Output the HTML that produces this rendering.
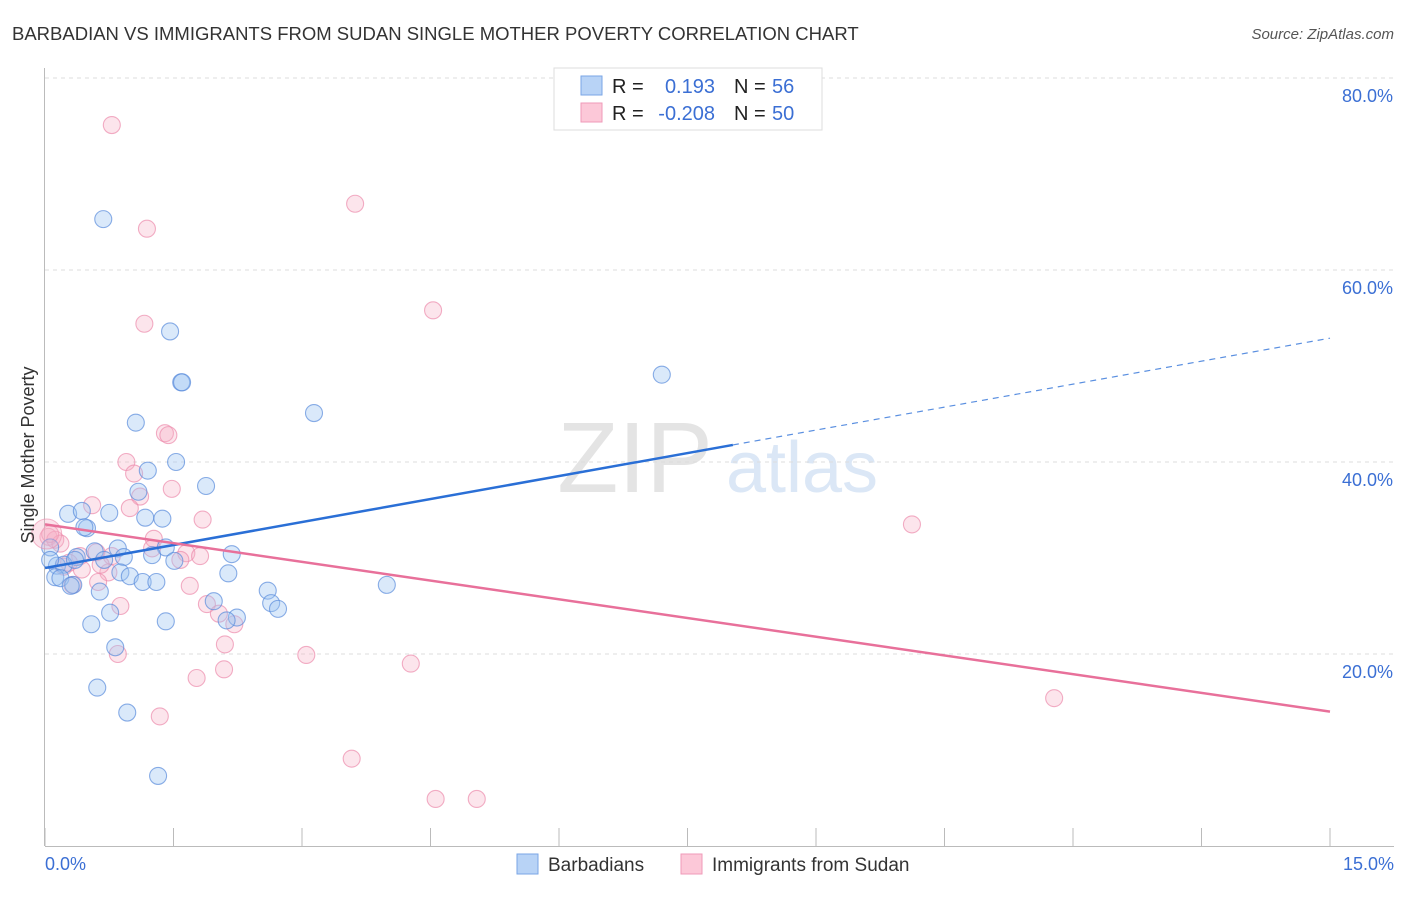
<!DOCTYPE html>
<html><head><meta charset="utf-8"><style>
body{margin:0;background:#fff;font-family:"Liberation Sans",sans-serif;}
svg text{font-family:"Liberation Sans",sans-serif;}
</style></head><body>
<svg id="chart" width="1406" height="892" xmlns="http://www.w3.org/2000/svg">
<text x="12" y="40" font-size="18.5" fill="#333">BARBADIAN VS IMMIGRANTS FROM SUDAN SINGLE MOTHER POVERTY CORRELATION CHART</text>
<text x="1394" y="39" font-size="15" fill="#555" text-anchor="end" font-style="italic">Source: ZipAtlas.com</text>
<text x="635" y="492" font-size="100" fill="#e4e4e4" font-family="Liberation Serif" text-anchor="middle">ZIP</text>
<text x="802" y="492" font-size="72" fill="#dbe7f6" text-anchor="middle">atlas</text>
<g id="grid"></g>
<g id="pts"></g>
<g id="lines"></g>
<text x="34" y="455" font-size="18" fill="#333" text-anchor="middle" transform="rotate(-90 34 455)">Single Mother Poverty</text>
<text x="45" y="870" font-size="18" fill="#3b6fd4">0.0%</text>
<text x="1394" y="870" font-size="18" fill="#3b6fd4" text-anchor="end">15.0%</text>
<g>
<rect x="554" y="68" width="268" height="62" fill="#fff" stroke="#ddd"/>
<rect x="581" y="76" width="21" height="19" fill="#b8d3f6" stroke="#7aa6e6"/>
<rect x="581" y="103" width="21" height="19" fill="#fcc8d8" stroke="#ef9ab8"/>
<text x="612" y="93" font-size="20" fill="#222">R =</text>
<text x="715" y="93" font-size="20" fill="#3b6fd4" text-anchor="end">0.193</text>
<text x="734" y="93" font-size="20" fill="#222">N =</text>
<text x="772" y="93" font-size="20" fill="#3b6fd4">56</text>
<text x="612" y="120" font-size="20" fill="#222">R =</text>
<text x="715" y="120" font-size="20" fill="#3b6fd4" text-anchor="end">-0.208</text>
<text x="734" y="120" font-size="20" fill="#222">N =</text>
<text x="772" y="120" font-size="20" fill="#3b6fd4">50</text>
</g>
<g>
<rect x="517" y="854" width="21" height="20" fill="#b8d3f6" stroke="#7aa6e6"/>
<text x="548" y="871" font-size="19" fill="#333">Barbadians</text>
<rect x="681" y="854" width="21" height="20" fill="#fcc8d8" stroke="#ef9ab8"/>
<text x="712" y="871" font-size="19" fill="#333">Immigrants from Sudan</text>
</g>
</svg>
<script>
const yTicks=[20,40,60,80];
const yTickLabels=["20.0%","40.0%","60.0%","80.0%"];
const xTicks=[0,1.5,3,4.5,6,7.5,9,10.5,12,13.5,15];
const blueX=[0.68,1.46,1.59,1.60,1.06,3.14,7.20,1.53,1.20,1.88,1.09,0.27,0.43,0.75,1.17,1.37,0.49,0.46,0.06,0.85,1.41,2.18,1.25,0.92,0.58,0.37,0.14,0.22,0.12,0.18,0.33,0.30,0.64,0.88,0.99,1.14,1.30,2.14,1.51,2.60,2.64,2.72,1.97,2.24,2.12,3.99,0.76,0.54,1.41,0.82,0.61,0.96,1.32,0.06,0.35,0.69];
const blueY=[65.3,53.6,48.3,48.3,44.1,45.1,49.1,40.0,39.1,37.5,36.9,34.6,34.9,34.7,34.2,34.1,33.1,33.2,31.1,31.0,31.1,30.4,30.3,30.1,30.7,30.1,29.2,29.3,28.0,27.9,27.2,27.1,26.5,28.5,28.1,27.5,27.5,28.4,29.7,26.6,25.3,24.7,25.5,23.8,23.5,27.2,24.3,23.1,23.4,20.7,16.5,13.9,7.3,29.8,29.8,29.8];
const pinkX=[0.78,1.19,3.62,4.53,1.16,1.40,1.44,0.95,1.04,1.48,1.11,0.55,0.99,1.84,0.04,0.12,0.18,1.27,1.25,1.65,1.81,0.60,0.78,0.41,0.28,0.22,0.74,0.43,0.32,0.62,1.69,0.88,1.89,2.03,2.21,2.10,0.85,3.05,4.27,2.09,1.77,1.34,3.58,4.56,5.04,10.12,11.78,0.06,0.65,1.58];
const pinkY=[75.1,64.3,66.9,55.8,54.4,43.0,42.8,40.0,38.8,37.2,36.4,35.5,35.2,34.0,32.2,31.9,31.5,32.0,31.0,30.5,30.2,30.6,30.2,30.2,29.5,29.1,28.5,28.8,27.2,27.5,27.1,25.0,25.2,24.2,23.1,21.0,20.0,19.9,19.0,18.4,17.5,13.5,9.1,4.9,4.9,33.5,15.4,32.5,29.3,29.8];
const blueTrend=[28.96,52.9];
const pinkTrend=[33.5,14.0];
const X0=45,X1=1330,Y0=846,PXPER=9.6;
const sx=v=>X0+v/15*(X1-X0);
const sy=v=>Y0-v*PXPER;
const NS="http://www.w3.org/2000/svg";
function mk(t,a,p){const e=document.createElementNS(NS,t);for(const k in a)e.setAttribute(k,a[k]);p.appendChild(e);return e;}
const grid=document.getElementById('grid');
yTicks.forEach((t,i)=>{
 const l=mk('line',{x1:45,x2:1394,y1:sy(t),y2:sy(t),stroke:'#ddd','stroke-dasharray':'4,4'},grid);
 
 
 const tx=mk('text',{x:1393,y:sy(t)+24,'font-size':18,fill:'#3b6fd4','text-anchor':'end'},grid);
 tx.textContent=yTickLabels[i];
 
 
});
const ax=mk('line',{x1:44.5,x2:44.5,y1:68,y2:846,stroke:'#bbb'},grid);


const bx=mk('line',{x1:45,x2:1394,y1:846.5,y2:846.5,stroke:'#bbb'},grid);


xTicks.forEach(t=>{
 const l=mk('line',{x1:sx(t),x2:sx(t),y1:828,y2:846,stroke:'#bbb'},grid);
 
 
});
const pts=document.getElementById('pts');
pinkX.forEach((x,i)=>{
 const c=mk('circle',{cx:sx(x),cy:sy(pinkY[i]),r:8.5,fill:'rgba(246,175,198,0.33)',stroke:'rgba(236,140,172,0.7)','stroke-width':1.1},pts);
 
 
});
blueX.forEach((x,i)=>{
 const c=mk('circle',{cx:sx(x),cy:sy(blueY[i]),r:8.5,fill:'rgba(158,196,242,0.38)',stroke:'rgba(90,140,220,0.7)','stroke-width':1.1},pts);
 
 
});
const big=mk('circle',{cx:sx(0.02),cy:sy(32.5),r:15,fill:'rgba(246,175,198,0.35)',stroke:'rgba(236,140,172,0.6)'},pts);


const lines=document.getElementById('lines');
const bAt=v=>blueTrend[0]+(blueTrend[1]-blueTrend[0])*v/15;
const solidEnd=8.03;
const b1=mk('line',{x1:sx(0),y1:sy(bAt(0)),x2:sx(solidEnd),y2:sy(bAt(solidEnd)),stroke:'#2a6fd6','stroke-width':2.5},lines);


const b2=mk('line',{x1:sx(solidEnd),y1:sy(bAt(solidEnd)),x2:sx(15),y2:sy(bAt(15)),stroke:'#5a8fe0','stroke-width':1.2,'stroke-dasharray':'6,5'},lines);


const p1=mk('line',{x1:sx(0),y1:sy(pinkTrend[0]),x2:sx(15),y2:sy(pinkTrend[1]),stroke:'#e8709a','stroke-width':2.5},lines);


</script>
</body></html>
